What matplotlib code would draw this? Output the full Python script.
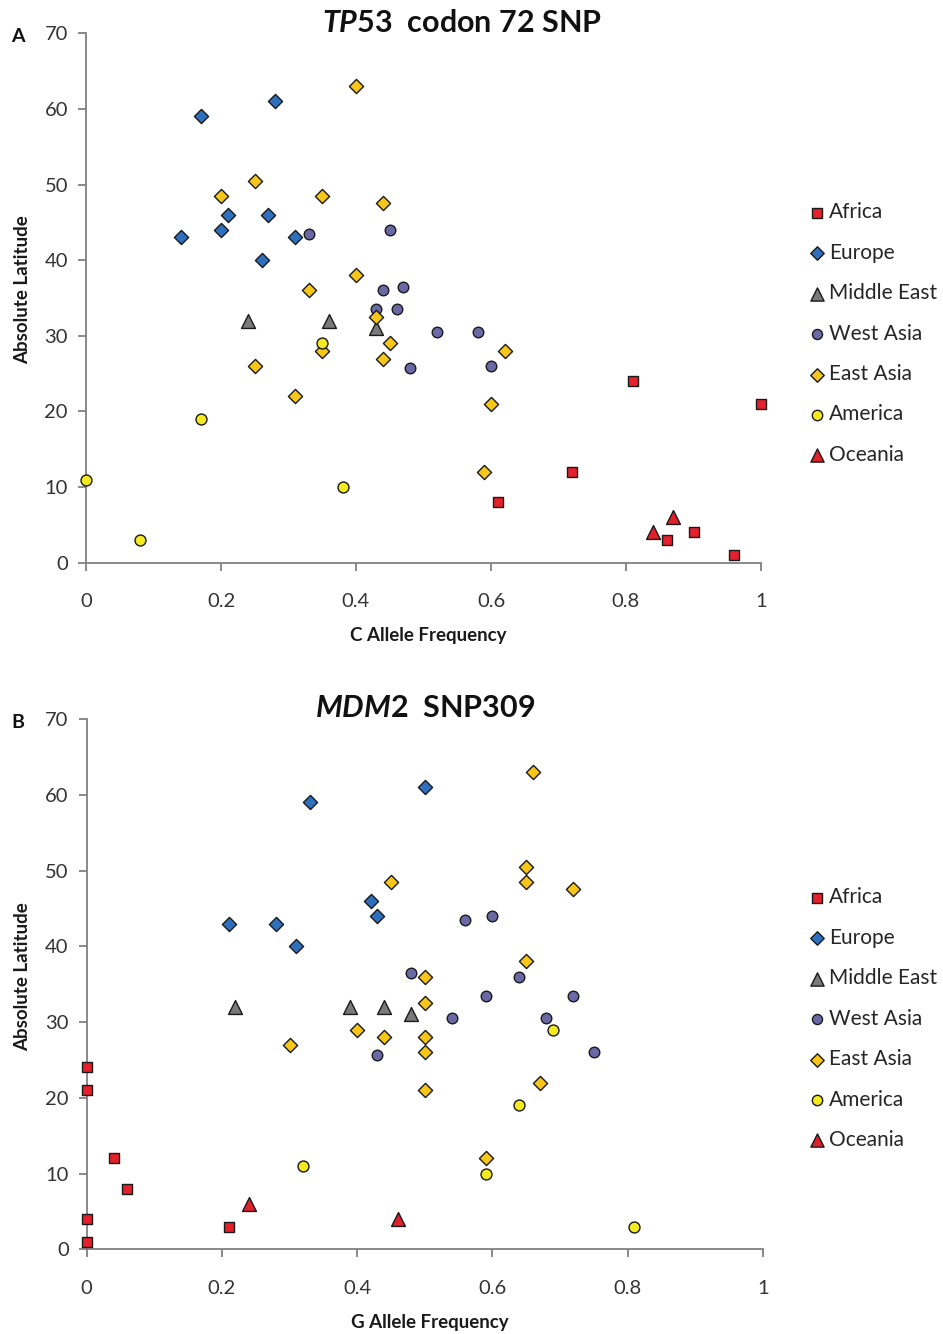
import matplotlib.pyplot as plt

plt.rcParams['font.family'] = ['Lato', 'DejaVu Sans']
plt.rcParams['mathtext.fontset'] = 'custom'
plt.rcParams['mathtext.it'] = 'Lato:italic:bold'
plt.rcParams['mathtext.rm'] = 'Lato:bold'

regions = ['Africa', 'Europe', 'Middle East', 'West Asia', 'East Asia', 'America', 'Oceania']

# TP53 codon 72 (C allele frequency vs absolute latitude)
tp53_africa_x = [0.81, 1.0, 0.72, 0.61, 0.90, 0.86, 0.96]
tp53_africa_y = [24, 21, 12, 8, 4, 3, 1]
tp53_europe_x = [0.17, 0.28, 0.21, 0.20, 0.14, 0.27, 0.31, 0.26]
tp53_europe_y = [59, 61, 46, 44, 43, 46, 43, 40]
tp53_mideast_x = [0.24, 0.36, 0.43]
tp53_mideast_y = [32, 32, 31]
tp53_westasia_x = [0.33, 0.45, 0.44, 0.47, 0.43, 0.46, 0.48, 0.52, 0.58, 0.60]
tp53_westasia_y = [43.5, 44, 36, 36.5, 33.5, 33.5, 25.7, 30.5, 30.5, 26]
tp53_eastasia_x = [0.40, 0.25, 0.20, 0.35, 0.44, 0.40, 0.33, 0.43, 0.35, 0.45, 0.44, 0.25, 0.31, 0.62, 0.60, 0.59]
tp53_eastasia_y = [63, 50.5, 48.5, 48.5, 47.5, 38, 36, 32.5, 28, 29, 27, 26, 22, 28, 21, 12]
tp53_america_x = [0, 0.08, 0.17, 0.35, 0.38]
tp53_america_y = [11, 3, 19, 29, 10]
tp53_oceania_x = [0.84, 0.87]
tp53_oceania_y = [4, 6]

# MDM2 SNP309 (G allele frequency vs absolute latitude)
mdm2_africa_x = [0, 0, 0.04, 0.06, 0, 0, 0.21]
mdm2_africa_y = [24, 21, 12, 8, 4, 1, 3]
mdm2_europe_x = [0.21, 0.28, 0.31, 0.33, 0.42, 0.43, 0.50]
mdm2_europe_y = [43, 43, 40, 59, 46, 44, 61]
mdm2_mideast_x = [0.22, 0.39, 0.44, 0.48]
mdm2_mideast_y = [32, 32, 32, 31]
mdm2_westasia_x = [0.56, 0.60, 0.48, 0.64, 0.59, 0.72, 0.54, 0.68, 0.43, 0.75]
mdm2_westasia_y = [43.5, 44, 36.5, 36, 33.5, 33.5, 30.5, 30.5, 25.6, 26]
mdm2_eastasia_x = [0.45, 0.50, 0.66, 0.65, 0.65, 0.72, 0.65, 0.50, 0.40, 0.44, 0.50, 0.50, 0.30, 0.50, 0.67, 0.59]
mdm2_eastasia_y = [48.5, 36, 63, 50.5, 48.5, 47.5, 38, 32.5, 29, 28, 28, 26, 27, 21, 22, 12]
mdm2_america_x = [0.32, 0.59, 0.64, 0.69, 0.81]
mdm2_america_y = [11, 10, 19, 29, 3]
mdm2_oceania_x = [0.24, 0.46]
mdm2_oceania_y = [6, 4]

x_ticks = [0, 0.2, 0.4, 0.6, 0.8, 1]
x_tick_labels = ['0', '0.2', '0.4', '0.6', '0.8', '1']
y_ticks = [0, 10, 20, 30, 40, 50, 60, 70]

# marker style per region
markers = {'Africa': 's', 'Europe': 'D', 'Middle East': '^', 'West Asia': 'o',
           'East Asia': 'D', 'America': 'o', 'Oceania': '^'}
colors = {'Africa': '#e3202b', 'Europe': '#2f6fbf', 'Middle East': '#7a7a7a',
          'West Asia': '#6b68a6', 'East Asia': '#f6c619', 'America': '#f3ea1f',
          'Oceania': '#e0202b'}
sizes = {'Africa': 55, 'Europe': 52, 'Middle East': 100, 'West Asia': 58,
         'East Asia': 52, 'America': 62, 'Oceania': 100}

tp53_data = [(tp53_africa_x, tp53_africa_y), (tp53_europe_x, tp53_europe_y),
             (tp53_mideast_x, tp53_mideast_y), (tp53_westasia_x, tp53_westasia_y),
             (tp53_eastasia_x, tp53_eastasia_y), (tp53_america_x, tp53_america_y),
             (tp53_oceania_x, tp53_oceania_y)]
mdm2_data = [(mdm2_africa_x, mdm2_africa_y), (mdm2_europe_x, mdm2_europe_y),
             (mdm2_mideast_x, mdm2_mideast_y), (mdm2_westasia_x, mdm2_westasia_y),
             (mdm2_eastasia_x, mdm2_eastasia_y), (mdm2_america_x, mdm2_america_y),
             (mdm2_oceania_x, mdm2_oceania_y)]

W, H = 943, 1334
fig = plt.figure(figsize=(W / 100, H / 100), dpi=100)


def draw_panel(rect, data, xlabel, legend_top):
    ax = fig.add_axes(rect)
    handles = []
    for name, (xs, ys) in zip(regions, data):
        h = ax.scatter(xs, ys, marker=markers[name], s=sizes[name], c=colors[name],
                       edgecolors='#1a1a1a', linewidths=1.0, clip_on=False,
                       zorder=3, label=name)
        handles.append(h)
    ax.set_xlim(0, 1)
    ax.set_ylim(0, 70)
    ax.set_xticks(x_ticks)
    ax.set_xticklabels(x_tick_labels)
    ax.set_yticks(y_ticks)
    for side in ['top', 'right']:
        ax.spines[side].set_visible(False)
    for side in ['left', 'bottom']:
        ax.spines[side].set_color('#808080')
        ax.spines[side].set_linewidth(1.3)
    ax.tick_params(axis='both', colors='#808080', labelcolor='#333333',
                   labelsize=14.5, length=6, width=1.3, direction='out')
    ax.tick_params(axis='x', pad=16)
    ax.tick_params(axis='y', pad=7)
    ax.set_xlabel(xlabel, fontsize=13.5, fontweight='bold', color='#1a1a1a')
    ax.xaxis.set_label_coords(0.507, -0.122)
    ax.set_ylabel('Absolute Latitude', fontsize=13.5, fontweight='bold', color='#1a1a1a')
    ax.yaxis.set_label_coords(-0.082, 0.515)
    fig.legend(handles=handles, loc='upper left',
               bbox_to_anchor=(799 / W, 1 - legend_top / H),
               frameon=False, fontsize=15, borderpad=0, handlelength=0.7,
               handletextpad=0.25, labelspacing=0.98, scatterpoints=1,
               markerscale=0.95, labelcolor='#262626')
    return ax


ax_a = draw_panel([86 / W, 1 - 562.7 / H, 675 / W, 529.4 / H], tp53_data,
                  'C Allele Frequency', 192)
ax_b = draw_panel([86.7 / W, 1 - 1249.3 / H, 676 / W, 530.3 / H], mdm2_data,
                  'G Allele Frequency', 877)

fig.text(462 / W, 1 - 32 / H, r'$\mathit{TP53}$  codon 72 SNP', ha='center',
         va='baseline', fontsize=22, fontweight='bold', color='#111111')
fig.text(425 / W, 1 - 717 / H, r'$\mathit{MDM2}$  SNP309', ha='center',
         va='baseline', fontsize=22, fontweight='bold', color='#111111')

fig.text(18 / W, 1 - 37 / H, 'A', ha='center', va='center', fontsize=14,
         fontweight='bold', color='#111111')
fig.text(18 / W, 1 - 722 / H, 'B', ha='center', va='center', fontsize=14,
         fontweight='bold', color='#111111')

fig.savefig('out.png', dpi=100)
